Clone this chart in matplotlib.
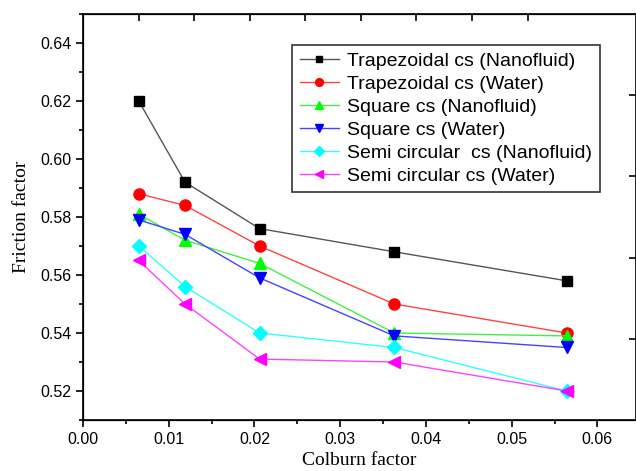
import matplotlib
matplotlib.use("Agg")
import matplotlib.pyplot as plt
from matplotlib.ticker import MultipleLocator

# Colburn factor (x) shared by all series
colburn = [0.0065, 0.0119, 0.0206, 0.0363, 0.0564]

trap_nano = [0.620, 0.592, 0.576, 0.568, 0.558]
trap_water = [0.588, 0.584, 0.570, 0.550, 0.540]
square_nano = [0.581, 0.572, 0.564, 0.540, 0.539]
square_water = [0.579, 0.574, 0.559, 0.539, 0.535]
semi_nano = [0.570, 0.556, 0.540, 0.535, 0.520]
semi_water = [0.565, 0.550, 0.531, 0.530, 0.520]

labels = [
    "Trapezoidal cs (Nanofluid)",
    "Trapezoidal cs (Water)",
    "Square cs (Nanofluid)",
    "Square cs (Water)",
    "Semi circular  cs (Nanofluid)",
    "Semi circular cs (Water)",
]

series = [trap_nano, trap_water, square_nano, square_water, semi_nano, semi_water]
colors = ["#000000", "#ff0000", "#00ff00", "#0000ff", "#00ffff", "#ff00ff"]
line_colors = ["#555555", "#ff4444", "#44ee44", "#4444ff", "#33ffff", "#ff44ff"]
markers = ["s", "o", "^", "v", "D", "<"]
sizes = [7, 8, 8, 8, 7, 8]

sans = ["Liberation Sans", "DejaVu Sans"]
serif = ["Liberation Serif", "DejaVu Serif"]

fig = plt.figure(figsize=(6.36, 4.71), dpi=100)
ax = fig.add_axes([0.1305, 0.1083, 0.8695, 0.862])

for ys, c, lc, m, ms, lab in zip(series, colors, line_colors, markers, sizes, labels):
    ax.plot(colburn, ys, color=lc, lw=1.0, marker=m, ms=ms,
            markerfacecolor=c, markeredgecolor=c, label=lab)

ax.set_xlim(0, 0.0645)
ax.set_ylim(0.51, 0.65)
ax.xaxis.set_major_locator(MultipleLocator(0.01))
ax.xaxis.set_minor_locator(MultipleLocator(0.005))
ax.yaxis.set_major_locator(MultipleLocator(0.02))
ax.yaxis.set_minor_locator(MultipleLocator(0.01))
ax.xaxis.set_major_formatter(matplotlib.ticker.FormatStrFormatter("%.2f"))
ax.yaxis.set_major_formatter(matplotlib.ticker.FormatStrFormatter("%.2f"))
ax.tick_params(which="major", direction="out", length=5, width=1.2,
               labelsize=11.5, top=False, right=False)
ax.tick_params(which="minor", direction="out", length=3, width=1.2,
               top=False, right=False)
for lbl in ax.get_xticklabels() + ax.get_yticklabels():
    lbl.set_family(sans)
for sp in ax.spines.values():
    sp.set_linewidth(1.2)

ax.set_xlabel("Colburn factor", family=serif, fontsize=14, labelpad=4)
ax.set_ylabel("Friction factor", family=serif, fontsize=14, labelpad=7)

# decorative ticks of the secondary layer (top and right)
axt = ax.twiny()
axt.set_xlim(0, 9.95)
axt.set_xticks(range(1, 9))
axt.tick_params(axis="x", direction="in", length=5, width=1.2, labeltop=False)
axr = ax.twinx()
axr.set_ylim(0, 5.0)
axr.set_yticks(range(1, 5))
axr.tick_params(axis="y", direction="in", length=5, width=1.2, labelright=False)

leg = ax.legend(loc="upper left", bbox_to_anchor=(0.378, 0.924),
                borderaxespad=0, prop={"family": sans, "size": 14},
                frameon=True, fancybox=False, edgecolor="black",
                handlelength=2.0, markerscale=0.7, labelspacing=0.27,
                borderpad=0.4, handletextpad=0.45)
leg.get_frame().set_linewidth(1.2)

fig.savefig("out.png", dpi=100)
